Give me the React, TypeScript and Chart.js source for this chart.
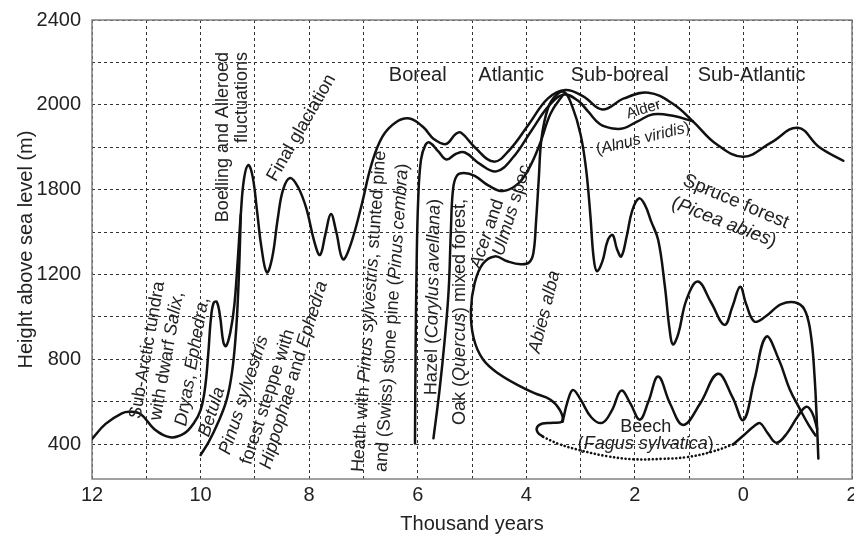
import React, { useEffect, useRef } from 'react';
import { Chart, registerables } from 'chart.js';

Chart.register(...registerables);

// ---------- axis ticks ----------
const xGridValues = [-2, -1, 0, 1, 2, 3, 4, 5, 6, 7, 8, 9, 10, 11, 12];
const xTickValues = [12, 10, 8, 6, 4, 2, 0, -2];
const xTickLabels = ['12', '10', '8', '6', '4', '2', '0', '2'];
const yGridValues = [400, 600, 800, 1000, 1200, 1400, 1600, 1800, 2000, 2200, 2400];
const yTickValues = [400, 800, 1200, 1600, 2000, 2400];
const yTickLabels = ['400', '800', '1200', '1800', '2000', '2400'];

// ---------- curves: [thousand years, height] ----------
const tundraCurve: [number, number][] = [
  [12.0, 424], [11.75, 495], [11.45, 545], [11.3, 552], [11.1, 540], [10.85, 470], [10.56, 432],
  [10.3, 450], [10.12, 500], [10.0, 560], [9.92, 660], [9.86, 820], [9.81, 990], [9.76, 1065],
  [9.7, 1070], [9.64, 1000], [9.58, 880], [9.53, 862], [9.45, 930], [9.38, 1050], [9.32, 1250],
  [9.26, 1480], [9.2, 1650], [9.12, 1716], [9.04, 1660], [8.96, 1500], [8.88, 1330], [8.78, 1210],
  [8.68, 1280], [8.58, 1460], [8.48, 1600], [8.35, 1655], [8.2, 1610], [8.05, 1510], [7.9, 1350],
  [7.8, 1292], [7.7, 1390], [7.6, 1485], [7.5, 1400], [7.38, 1272], [7.25, 1330], [7.05, 1510],
  [6.85, 1720], [6.65, 1850], [6.4, 1918], [6.15, 1935], [5.9, 1895], [5.7, 1838], [5.48, 1815],
  [5.3, 1862], [5.2, 1868], [4.95, 1800], [4.6, 1732], [4.3, 1790], [3.95, 1910], [3.6, 2030],
  [3.28, 2070], [2.95, 2040], [2.6, 1978], [2.2, 2030], [1.75, 2057], [1.3, 2005], [0.93, 1922],
  [0.5, 1815], [0.0, 1755], [-0.5, 1820], [-1.0, 1892], [-1.4, 1800], [-1.84, 1736],
];

const pinusCurve: [number, number][] = [
  [10.0, 348], [9.85, 410], [9.68, 500], [9.52, 608], [9.42, 740], [9.35, 920], [9.31, 1100],
  [9.28, 1300], [9.26, 1480],
];

const hazelAlderCurve: [number, number][] = [
  [6.05, 403], [6.04, 800], [6.02, 1250], [5.99, 1560], [5.94, 1740], [5.86, 1810], [5.78, 1822],
  [5.62, 1780], [5.47, 1742], [5.3, 1768], [5.13, 1775], [4.85, 1720], [4.55, 1686], [4.25, 1750],
  [3.9, 1880], [3.6, 1990], [3.32, 2048], [3.05, 2020], [2.85, 1965], [2.64, 1908], [2.4, 1888],
  [2.2, 1890], [1.95, 1922], [1.66, 1955], [1.3, 1948], [0.93, 1922],
];

const oakCurve: [number, number][] = [
  [5.71, 427], [5.6, 650], [5.5, 900], [5.43, 1126], [5.39, 1400], [5.35, 1600], [5.28, 1665],
  [5.15, 1678], [4.95, 1665], [4.7, 1620], [4.43, 1593], [4.15, 1628], [3.95, 1700], [3.75, 1815],
  [3.55, 1960], [3.32, 2048],
];

const abiesSpruceCurve: [number, number][] = [
  [3.69, 434], [3.79, 455], [3.8, 480], [3.7, 497], [3.5, 500], [3.34, 508], [3.38, 560],
  [3.56, 610], [3.85, 640], [4.11, 672], [4.5, 730], [4.8, 800], [4.97, 900], [5.02, 1030],
  [4.95, 1160], [4.8, 1250], [4.58, 1285], [4.35, 1262], [4.1, 1248], [3.95, 1256], [3.87, 1300],
  [3.82, 1450], [3.77, 1650], [3.72, 1840], [3.6, 1985], [3.45, 2045], [3.3, 2060], [3.15, 1990],
  [3.0, 1860], [2.9, 1700], [2.82, 1480], [2.76, 1280], [2.7, 1215], [2.6, 1260], [2.5, 1360],
  [2.41, 1386], [2.33, 1320], [2.25, 1285], [2.15, 1380], [2.05, 1500], [1.93, 1558], [1.82, 1530],
  [1.7, 1450], [1.57, 1362], [1.45, 1150], [1.36, 940], [1.3, 870], [1.2, 920], [1.05, 1080],
  [0.84, 1166], [0.6, 1070], [0.35, 962], [0.2, 1050], [0.06, 1142], [-0.05, 1060], [-0.2, 978],
  [-0.4, 1000], [-0.7, 1060], [-1.0, 1064], [-1.15, 1020], [-1.25, 900], [-1.31, 720],
  [-1.35, 520], [-1.38, 332],
];

const beechCurve: [number, number][] = [
  [3.33, 505], [3.24, 600], [3.14, 655], [3.0, 610], [2.8, 525], [2.6, 500], [2.42, 560],
  [2.25, 652], [2.08, 590], [1.91, 515], [1.75, 600], [1.57, 718], [1.35, 590], [1.11, 490],
  [0.8, 590], [0.47, 731], [0.2, 620], [0.0, 513], [-0.2, 700], [-0.42, 906], [-0.65, 800],
  [-0.85, 660], [-1.05, 560], [-1.2, 490], [-1.33, 440],
];

const beechDotted: [number, number][] = [
  [3.69, 434], [3.4, 400], [3.0, 370], [2.5, 342], [2.0, 328], [1.5, 330], [1.05, 338],
  [0.6, 362], [0.19, 398],
];

const beechEndCurve: [number, number][] = [
  [0.19, 398], [0.0, 440], [-0.2, 485], [-0.31, 498], [-0.45, 450], [-0.61, 406], [-0.8, 450],
  [-1.0, 530], [-1.16, 576], [-1.27, 545], [-1.36, 470],
];

// ---------- text annotations ----------
type Seg = [string, boolean];
interface Note { segs: Seg[]; x: number; y: number; angle: number; size: number; align: 'left' | 'center' | 'right'; }

const notes: Note[] = [
  { segs: [['Boreal', false]], x: 6.0, y: 2140, angle: 0, size: 20, align: 'center' },
  { segs: [['Atlantic', false]], x: 4.28, y: 2140, angle: 0, size: 20, align: 'center' },
  { segs: [['Sub-boreal', false]], x: 2.28, y: 2140, angle: 0, size: 20, align: 'center' },
  { segs: [['Sub-Atlantic', false]], x: -0.15, y: 2140, angle: 0, size: 20, align: 'center' },
  { segs: [['Boelling and Alleroed', false]], x: 9.58, y: 2249, angle: -90, size: 18, align: 'right' },
  { segs: [['fluctuations', false]], x: 9.23, y: 2249, angle: -90, size: 18, align: 'right' },
  { segs: [['Final glaciation', false]], x: 8.14, y: 1891, angle: -60, size: 18, align: 'center' },
  { segs: [['Sub-Arctic tundra', false]], x: 10.98, y: 843, angle: -80, size: 18, align: 'center' },
  { segs: [['with dwarf ', false], ['Salix', true], [',', false]], x: 10.62, y: 815, angle: -80, size: 18, align: 'center' },
  { segs: [['Dryas', true], [', ', false], ['Ephedra', true], [',', false]], x: 10.15, y: 788, angle: -80, size: 18, align: 'center' },
  { segs: [['Betula', true]], x: 9.79, y: 551, angle: -72, size: 18, align: 'center' },
  { segs: [['Pinus sylvestris', true]], x: 9.2, y: 631, angle: -72, size: 18, align: 'center' },
  { segs: [['forest steppe with', false]], x: 8.76, y: 622, angle: -72, size: 18, align: 'center' },
  { segs: [['Hippophae', true], [' and ', false], ['Ephedra', true]], x: 8.28, y: 725, angle: -73, size: 18, align: 'center' },
  { segs: [['Heath with ', false], ['Pinus sylvestris', true], [', stunted pine', false]], x: 7.1, y: 268, angle: -86, size: 18, align: 'left' },
  { segs: [['and (Swiss) stone pine (', false], ['Pinus cembra', true], [')', false]], x: 6.67, y: 268, angle: -86, size: 18, align: 'left' },
  { segs: [['Hazel (', false], ['Corylus avellana', true], [')', false]], x: 5.75, y: 631, angle: -89, size: 18, align: 'left' },
  { segs: [['Oak (', false], ['Quercus', true], [') mixed forest,', false]], x: 5.22, y: 490, angle: -90, size: 18, align: 'left' },
  { segs: [['Acer', true], [' and', false]], x: 4.72, y: 1391, angle: -71, size: 18, align: 'center' },
  { segs: [['Ulmus', true], [' spec.', false]], x: 4.25, y: 1513, angle: -73, size: 18, align: 'center' },
  { segs: [['Abies alba', true]], x: 3.66, y: 1023, angle: -76, size: 18, align: 'center' },
  { segs: [['Alder', false]], x: 1.84, y: 1978, angle: -17, size: 15, align: 'center' },
  { segs: [['(', false], ['Alnus viridis', true], [')', false]], x: 1.85, y: 1840, angle: -14, size: 16, align: 'center' },
  { segs: [['Spruce forest', false]], x: 0.14, y: 1543, angle: 23, size: 19, align: 'center' },
  { segs: [['(', false], ['Picea abies', true], [')', false]], x: 0.36, y: 1445, angle: 21, size: 19, align: 'center' },
  { segs: [['Beech', false]], x: 1.8, y: 480, angle: 0, size: 18, align: 'center' },
  { segs: [['(', false], ['Fagus sylvatica', true], [')', false]], x: 1.8, y: 400, angle: 0, size: 18, align: 'center' },
];

const FONT = "'Liberation Sans', Arial, Helvetica, sans-serif";
const TEXT = '#222';
const LINE = '#111';

const toPts = (arr: [number, number][]) => arr.map(([x, y]) => ({ x, y }));

const solid = (arr: [number, number][]) => ({
  data: toPts(arr),
  borderColor: LINE,
  borderWidth: 2.5,
  pointRadius: 0,
  tension: 0.4,
  fill: false,
  borderCapStyle: 'round' as const,
  borderJoinStyle: 'round' as const,
});

const frameAndNotes = {
  id: 'frameAndNotes',
  beforeDatasetsDraw(chart: any) {
    const { ctx, chartArea } = chart;
    ctx.save();
    ctx.strokeStyle = '#808080';
    ctx.lineWidth = 1.5;
    ctx.strokeRect(chartArea.left, chartArea.top, chartArea.right - chartArea.left, chartArea.bottom - chartArea.top);
    ctx.restore();
  },
  afterDatasetsDraw(chart: any) {
    const { ctx } = chart;
    const xs = chart.scales.x;
    const ys = chart.scales.y;
    notes.forEach((n) => {
      const px = xs.getPixelForValue(n.x);
      const py = ys.getPixelForValue(n.y);
      ctx.save();
      ctx.translate(px, py);
      ctx.rotate((n.angle * Math.PI) / 180);
      const fonts = n.segs.map(([, it]) => `${it ? 'italic ' : ''}${n.size}px ${FONT}`);
      const widths = n.segs.map(([t], i) => { ctx.font = fonts[i]; return ctx.measureText(t).width; });
      const total = widths.reduce((a, b) => a + b, 0);
      let start = n.align === 'left' ? 0 : n.align === 'center' ? -total / 2 : -total;
      ctx.textBaseline = 'middle';
      ctx.textAlign = 'left';
      ctx.fillStyle = TEXT;
      n.segs.forEach(([t], i) => {
        ctx.font = fonts[i];
        ctx.fillText(t, start, 0);
        start += widths[i];
      });
      ctx.restore();
    });
  },
};

export default function App() {
  const ref = useRef<HTMLCanvasElement | null>(null);

  useEffect(() => {
    if (!ref.current) return;
    const chart = new Chart(ref.current, {
      type: 'line',
      data: {
        datasets: [
          solid(tundraCurve),
          solid(pinusCurve),
          solid(hazelAlderCurve),
          solid(oakCurve),
          solid(abiesSpruceCurve),
          solid(beechCurve),
          { ...solid(beechDotted), borderWidth: 2.6, borderDash: [0.1, 3.8] },
          solid(beechEndCurve),
        ],
      },
      options: {
        responsive: false,
        animation: false,
        devicePixelRatio: 1,
        events: [],
        layout: { padding: { top: 20, right: 2, left: 0, bottom: 0 } },
        plugins: { legend: { display: false }, tooltip: { enabled: false }, title: { display: false } },
        scales: {
          x: {
            type: 'linear',
            reverse: true,
            min: -2,
            max: 12,
            afterBuildTicks: (s: any) => { s.ticks = xGridValues.map((v) => ({ value: v })); },
            afterFit: (s: any) => { s.height = 57; s.paddingLeft = 0; s.paddingRight = 0; },
            grid: { color: '#333', lineWidth: 1, drawTicks: false },
            border: { display: false, dash: [3, 3] },
            ticks: {
              autoSkip: false,
              maxRotation: 0,
              padding: 4,
              color: TEXT,
              font: { family: FONT, size: 20 },
              callback: (v: any) => { const i = xTickValues.indexOf(Number(v)); return i >= 0 ? xTickLabels[i] : ''; },
            },
            title: { display: true, text: 'Thousand years', color: TEXT, font: { family: FONT, size: 20, lineHeight: 1.2 }, padding: { top: 0, bottom: 0 } },
          },
          y: {
            type: 'linear',
            min: 235,
            max: 2400,
            afterBuildTicks: (s: any) => { s.ticks = yGridValues.map((v) => ({ value: v })); },
            afterFit: (s: any) => { s.width = 92; s.paddingTop = 0; s.paddingBottom = 0; },
            grid: { color: '#333', lineWidth: 1, drawTicks: false },
            border: { display: false, dash: [3, 3] },
            ticks: {
              autoSkip: false,
              padding: 11,
              color: TEXT,
              font: { family: FONT, size: 20 },
              callback: (v: any) => { const i = yTickValues.indexOf(Number(v)); return i >= 0 ? yTickLabels[i] : ''; },
            },
            title: { display: true, text: 'Height above sea level (m)', color: TEXT, font: { family: FONT, size: 20, lineHeight: 1.2 }, padding: { top: 14, bottom: 0 } },
          },
        },
      },
      plugins: [frameAndNotes],
    } as any);
    return () => chart.destroy();
  }, []);

  return (
    <div style={{ position: 'absolute', left: 0, top: 0, width: 854, height: 536, background: '#fff' }}>
      <canvas ref={ref} width={854} height={536} />
    </div>
  );
}
